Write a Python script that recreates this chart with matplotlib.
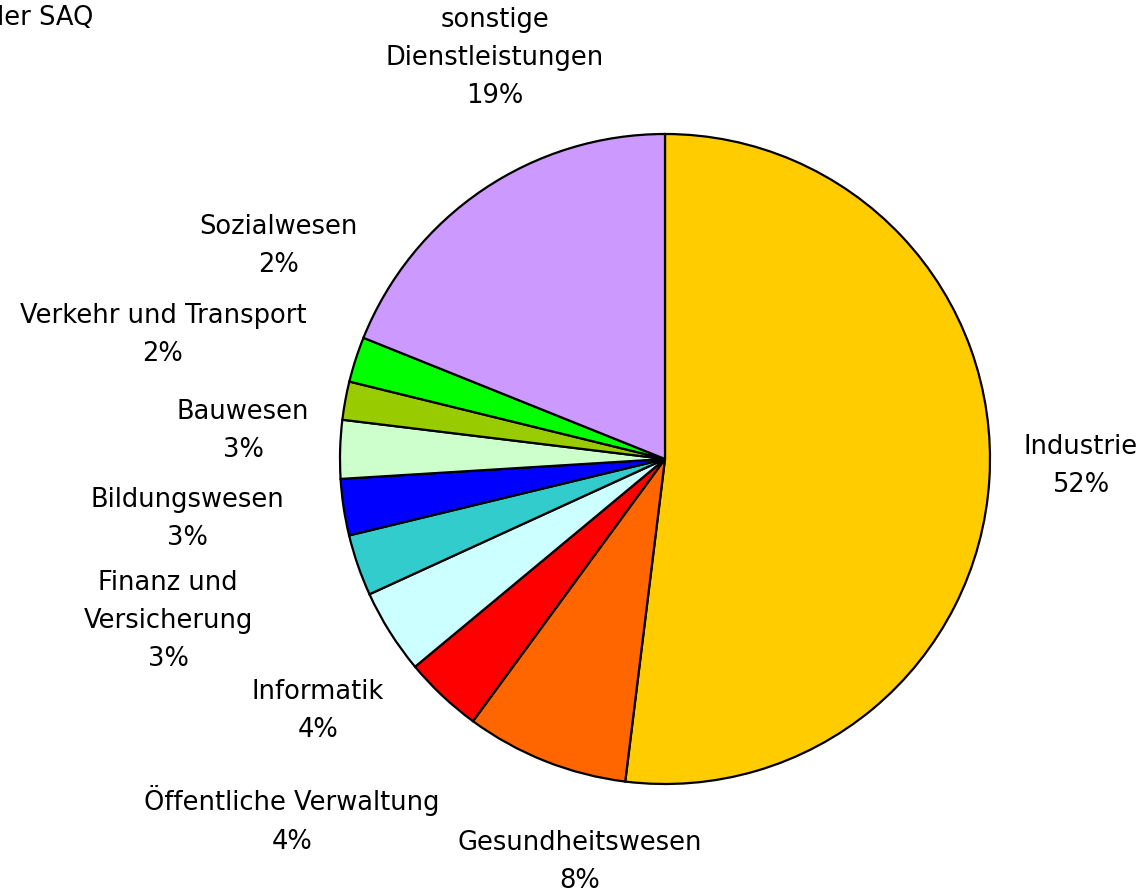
import matplotlib
matplotlib.use("Agg")
import matplotlib.pyplot as plt

categories = ["Industrie", "Gesundheitswesen", "Öffentliche Verwaltung", "Informatik",
              "Finanz und\nVersicherung", "Bildungswesen", "Bauwesen",
              "Verkehr und Transport", "Sozialwesen", "sonstige\nDienstleistungen"]
values = [51.9, 8.1, 3.9, 4.2, 3.05, 2.8, 2.9, 1.9, 2.25, 18.9]
colors = ["#FFCC00", "#FF6600", "#FF0000", "#CCFFFF", "#33CCCC", "#0000FF",
          "#CCFFCC", "#99CC00", "#00FF00", "#CC99FF"]
# label centre positions in pixels of the figure (layout)
label_px = [(1081, 466), (580, 862), (292, 820), (318, 711), (168, 621),
            (187, 519), (243, 431), (163, 335), (278, 246), (495, 58)]
title_text = "Mitglieder SAQ"

W, H = 1146, 896
cx, cy, R = 665, 459, 325
fig = plt.figure(figsize=(W / 100, H / 100), dpi=100)
ax = fig.add_axes([(cx - R) / W, (H - cy - R) / H, 2 * R / W, 2 * R / H])
ax.pie(values, colors=colors, startangle=90, counterclock=False, radius=1,
       wedgeprops=dict(edgecolor="black", linewidth=1.6))
ax.set_xlim(-1, 1)
ax.set_ylim(-1, 1)
ax.set_aspect("equal")
ax.axis("off")

total = sum(values)
for cat, v, (px, py) in zip(categories, values, label_px):
    pct = round(v / total * 100)
    ax.text((px - cx) / R, (cy - py) / R, f"{cat}\n{pct}%", ha="center", va="center",
            fontsize=18.5, linespacing=1.62, family="DejaVu Sans", clip_on=False)

fig.text(93 / W, 1 - 18 / H, title_text, ha="right", va="center", fontsize=18.5,
         family="DejaVu Sans")

fig.savefig("out.png", dpi=100, facecolor="white")
